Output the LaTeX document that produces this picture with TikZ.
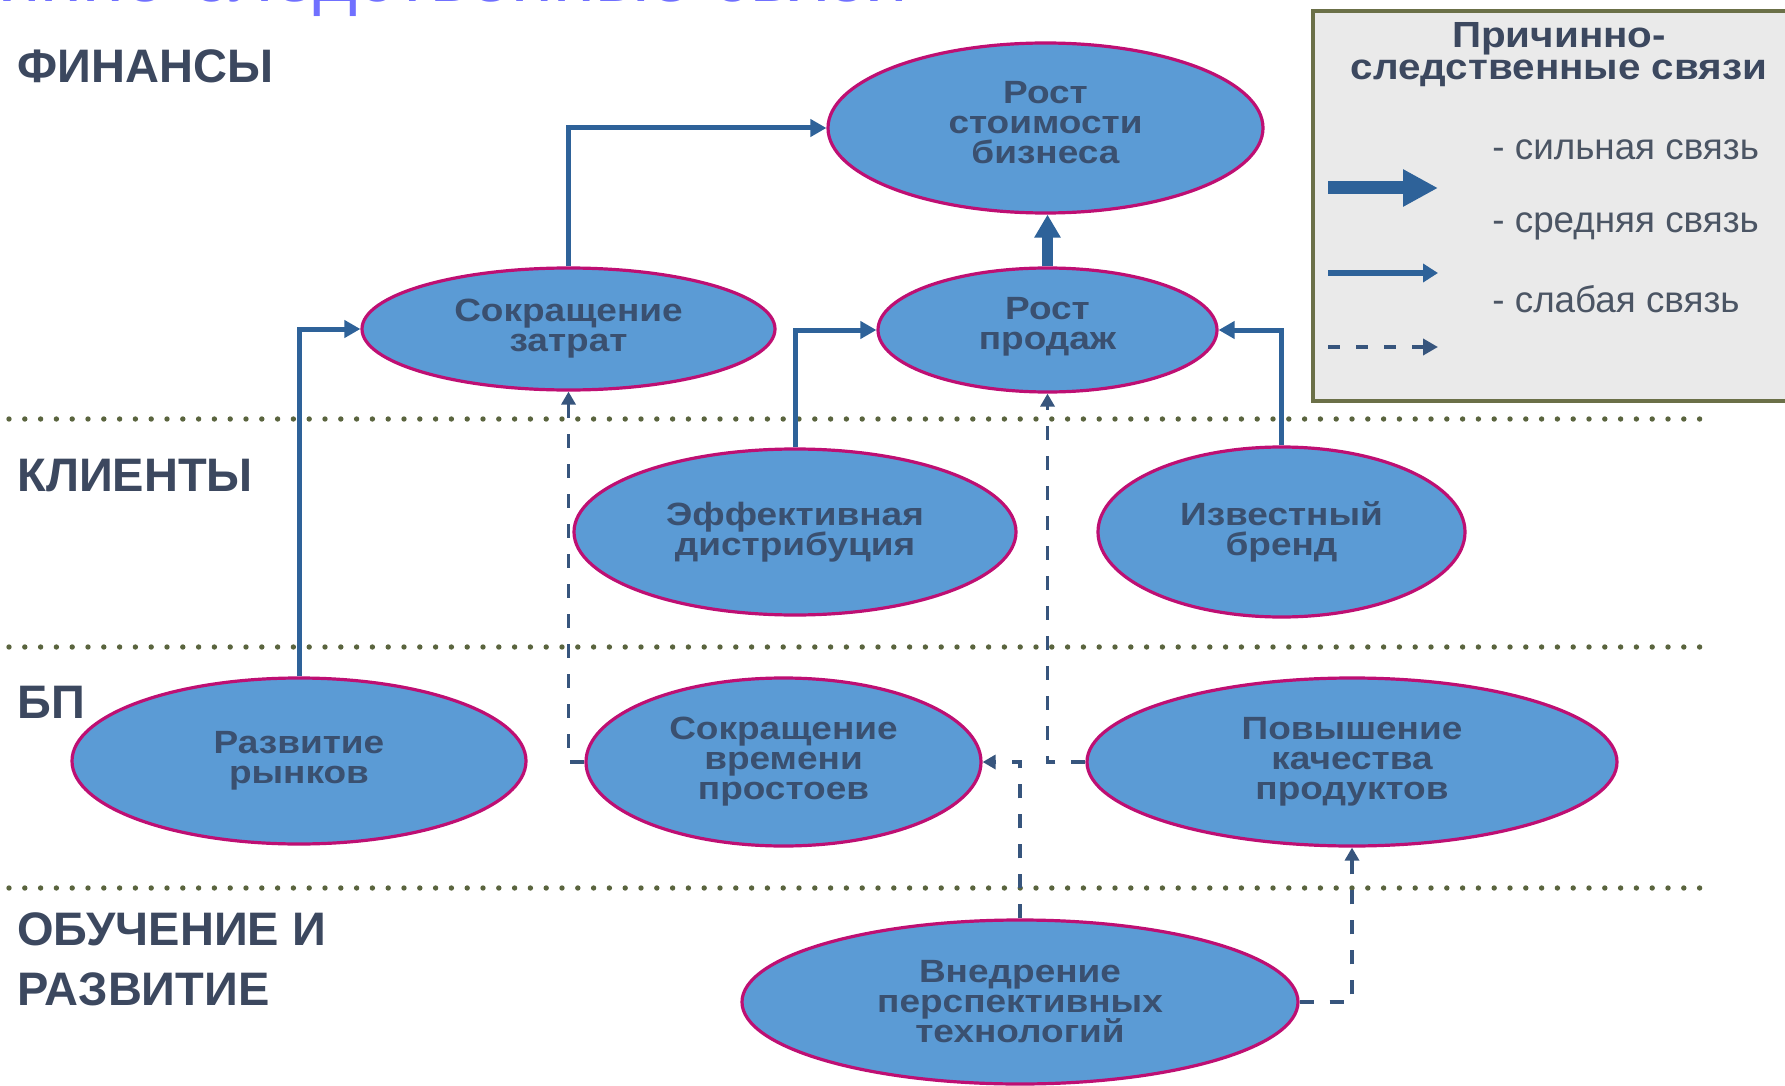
\documentclass[tikz,border=0pt]{standalone}
\usepackage{graphicx}
\usepackage{fontspec}
\setmainfont{Liberation Sans}
\usetikzlibrary{arrows.meta,shapes.geometric}
\definecolor{elfill}{RGB}{91,155,213}
\definecolor{elline}{RGB}{190,15,115}
\definecolor{eltext}{RGB}{58,80,112}
\definecolor{lbltext}{RGB}{60,72,95}
\definecolor{arr}{RGB}{46,98,153}
\definecolor{darr}{RGB}{55,85,125}
\definecolor{dotc}{RGB}{90,100,62}
\definecolor{legfill}{RGB}{234,234,234}
\definecolor{legline}{RGB}{107,112,72}
\definecolor{legtext}{RGB}{75,85,100}
\definecolor{ttl}{RGB}{112,112,255}
\newcommand\sqtext[3]{\scalebox{1}[#1]{\vbox{\baselineskip=#2\relax\lineskiplimit=-100pt\lineskip=0pt\halign{\hfil##\hfil\cr#3\crcr}}}}
\tikzset{
  el/.style={ellipse, draw=elline, line width=1.6pt, fill=elfill, text=eltext,
    font=\bfseries\fontsize{18.5}{17.25}\selectfont, inner sep=0pt},
  lbl/.style={anchor=base west, inner sep=0pt, text=lbltext,
    font=\bfseries\fontsize{23.5}{28}\selectfont},
  legitem/.style={anchor=base west, inner sep=0pt, text=legtext,
    font=\fontsize{18.4}{20}\selectfont},
  sepline/.style={draw=dotc, line width=2.7pt, line cap=round, dash pattern=on 0pt off 7.9pt},
  medarr/.style={draw=arr, line width=2.5pt, -{Triangle[length=8pt,width=8.5pt]}},
  thickarr/.style={draw=arr, line width=5.5pt, -{Triangle[length=11.5pt,width=12.5pt]}},
  weakarr/.style={draw=darr, line width=1.7pt, dash pattern=on 7pt off 8pt, -{Triangle[length=6.5pt,width=7pt]}},
}
\begin{document}
\begin{tikzpicture}[x=0.5pt,y=-0.5pt]
\useasboundingbox (0,0) rectangle (1785,1086);
\clip (0,0) rectangle (1785,1086);
\fill[white] (0,0) rectangle (1785,1086);

% cut-off page title
\node[anchor=base east, inner sep=0pt, text=ttl, font=\fontsize{37.8}{40}\selectfont] (pgtitle) at (908,1.5) {Причинно-следственные связи};

% separators
\draw[sepline] (9,419) -- (1706,419);
\draw[sepline] (9,647) -- (1706,647);
\draw[sepline] (9,888) -- (1706,888);

% row labels
\node[lbl] (lfin) at (17,83) {ФИНАНСЫ};
\node[lbl] (lcli) at (17,491) {КЛИЕНТЫ};
\node[lbl] (lbp) at (17,718) {БП};
\node[lbl] (llrn1) at (17,945) {ОБУЧЕНИЕ И};
\node[lbl] (llrn2) at (17,1005) {РАЗВИТИЕ};

% legend
\draw[fill=legfill, draw=legline, line width=2.2pt] (1313,11) rectangle (1800,401);
\node[anchor=base, inner sep=0pt, text=lbltext, font=\bfseries\fontsize{20.2}{18}\selectfont] (legtitle) at (1559,80)
  {\sqtext{0.9}{18.3pt}{Причинно-\cr следственные связи}};
\node[legitem] (li1) at (1492,160) {- сильная связь};
\node[legitem] (li2) at (1492,233) {- средняя связь};
\node[legitem] (li3) at (1492,313) {- слабая связь};
\coordinate (la1) at (1328,188); \coordinate (lb1) at (1438,188);
\coordinate (la2) at (1328,273); \coordinate (lb2) at (1438,273);
\coordinate (la3) at (1328,347); \coordinate (lb3) at (1438,347);
\draw[draw=arr, line width=6.5pt, -{Triangle[length=17.5pt,width=17.5pt]}] (la1) -- (lb1);
\draw[draw=arr, line width=3pt, -{Triangle[length=7.5pt,width=9pt]}] (la2) -- (lb2);
\draw[draw=darr, line width=2pt, dash pattern=on 6pt off 8pt, -{Triangle[length=7.5pt,width=8pt]}] (la3) -- (lb3);

% ellipses
\node[el, minimum width=217.5pt, minimum height=85pt] (val) at (1045.5,128)
  {\sqtext{0.87}{17.25pt}{Рост\cr стоимости\cr бизнеса\rule[-6pt]{0pt}{6pt}}};
\node[el, minimum width=169.5pt, minimum height=62pt] (sales) at (1047.5,330)
  {\sqtext{0.87}{17.25pt}{Рост\cr продаж\rule[-7.5pt]{0pt}{7.5pt}}};
\node[el, minimum width=206.5pt, minimum height=61pt] (cost) at (568.5,329)
  {\sqtext{0.87}{17.25pt}{Сокращение\cr затрат}};
\node[el, minimum width=221pt, minimum height=83pt] (dist) at (795,532)
  {\sqtext{0.87}{17.25pt}{Эффективная\cr дистрибуция}};
\node[el, minimum width=183.5pt, minimum height=85pt] (brand) at (1281.5,532)
  {\sqtext{0.87}{17.25pt}{Известный\cr бренд}};
\node[el, minimum width=227pt, minimum height=83pt] (mkt) at (299,761)
  {\sqtext{0.87}{17.25pt}{Развитие\cr рынков}};
\node[el, minimum width=197.5pt, minimum height=84pt] (down) at (783.5,762)
  {\sqtext{0.87}{17.25pt}{Сокращение\cr времени\cr простоев}};
\node[el, minimum width=265pt, minimum height=84pt] (qual) at (1352,762)
  {\sqtext{0.87}{17.25pt}{Повышение\cr качества\cr продуктов}};
\node[el, minimum width=278pt, minimum height=82pt] (tech) at (1020,1002)
  {\sqtext{0.87}{17.25pt}{Внедрение\cr перспективных\cr технологий}};

% connectors
\draw[medarr] (cost.north) |- (val.west);
\draw[medarr] (mkt.north) |- (cost.west);
\draw[medarr] (dist.north) |- (sales.west);
\draw[medarr] (brand.north) |- (sales.east);
\draw[thickarr] (sales.north) -- (sales.north |- val.south);
\draw[weakarr] (down.west) -| (cost.south);
\draw[weakarr] (qual.west) -| (sales.south);
\draw[weakarr] (tech.north) |- (down.east);
\draw[weakarr] (tech.east) -| (qual.south);
\end{tikzpicture}
\end{document}
